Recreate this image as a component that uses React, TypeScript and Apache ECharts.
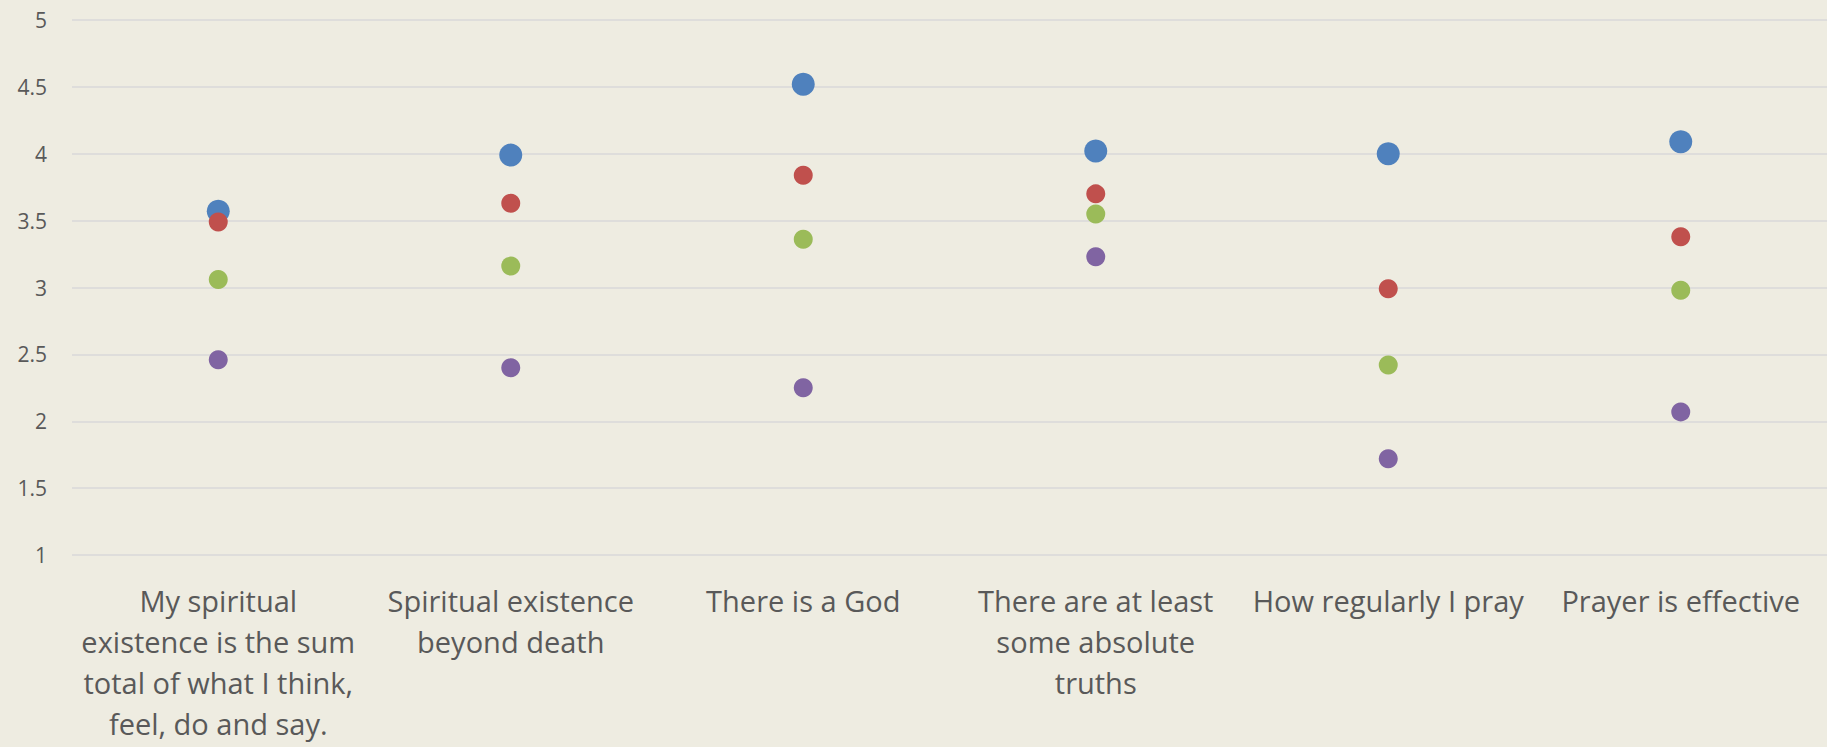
import React, { useEffect, useRef } from "react";
import * as echarts from "echarts";

const categories = [
  "My spiritual\nexistence is the sum\ntotal of what I think,\nfeel, do and say.",
  "Spiritual existence\nbeyond death",
  "There is a God",
  "There are at least\nsome absolute\ntruths",
  "How regularly I pray",
  "Prayer is effective",
];
const seriesBlue = [3.57, 3.99, 4.52, 4.02, 4.0, 4.09];
const seriesRed = [3.49, 3.63, 3.84, 3.7, 2.99, 3.38];
const seriesGreen = [3.06, 3.16, 3.36, 3.55, 2.42, 2.98];
const seriesPurple = [2.46, 2.4, 2.25, 3.23, 1.72, 2.07];

export default function App() {
  const ref = useRef<HTMLDivElement>(null);
  useEffect(() => {
    if (!ref.current) return;
    const chart = echarts.init(ref.current, undefined, { renderer: "svg" });
    const mk = (data: number[], color: string, size: number) => ({
      type: "scatter",
      data,
      symbol: "circle",
      symbolSize: size,
      itemStyle: { color, opacity: 1 },
    });
    chart.setOption({
      animation: false,
      backgroundColor: "#EEECE1",
      grid: { left: 72, right: 0, top: 20, bottom: 192, containLabel: false },
      xAxis: {
        type: "category",
        data: categories,
        boundaryGap: true,
        axisLine: { show: false },
        axisTick: { show: false },
        axisLabel: {
          interval: 0,
          margin: 25,
          fontFamily: "Open Sans",
          fontSize: 29,
          lineHeight: 41,
          color: "#595959",
          align: "center",
          verticalAlign: "top",
        },
        splitLine: { show: false },
      },
      yAxis: {
        type: "value",
        min: 1,
        max: 5,
        interval: 0.5,
        axisLine: { show: false },
        axisTick: { show: false },
        axisLabel: {
          margin: 25,
          fontFamily: "Open Sans",
          fontSize: 21,
          color: "#595959",
        },
        splitLine: { lineStyle: { color: "#D9D9D9", width: 1.5 } },
      },
      series: [
        mk(seriesBlue, "#4F81BD", 23),
        mk(seriesRed, "#C0504D", 19),
        mk(seriesGreen, "#9BBB59", 19),
        mk(seriesPurple, "#8064A2", 19),
      ],
    });
    return () => chart.dispose();
  }, []);
  return (
    <div
      ref={ref}
      style={{ position: "fixed", left: 0, top: 0, width: 1827, height: 747 }}
    />
  );
}
